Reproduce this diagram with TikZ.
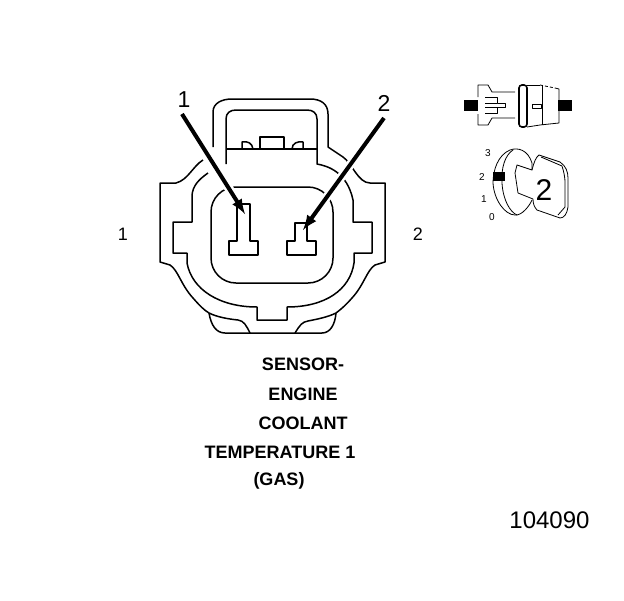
\documentclass[tikz,border=0pt]{standalone}
\usepackage{fontspec}
\setmainfont{Liberation Sans}
\usetikzlibrary{calc, arrows}
\tikzset{>=latex}
\tikzset{outline/.style={line width=1.5pt, line join=round}}
\tikzset{thinline/.style={line width=0.8pt, line join=round}}
\tikzset{pointer/.style={->, line width=4pt}}
\tikzset{halo/.style={white, line width=9pt}}
\tikzset{pinlabel/.style={font=\fontsize{23}{23}\selectfont}}
\tikzset{sidelabel/.style={font=\fontsize{18}{18}\selectfont}}
\tikzset{title/.style={font=\fontsize{18}{18}\selectfont\bfseries}}
\tikzset{gauge/.style={font=\fontsize{10}{10}\selectfont}}
\begin{document}
\begin{tikzpicture}[x=1pt, y=-1pt]
\useasboundingbox (0, 0) rectangle (624, 600);
% connector body
\draw[outline] (213, 147) -- (213, 112) .. controls (213, 103) and (222, 99) .. (232, 99) -- (310, 99) .. controls (321, 99) and (328, 104) .. (328, 114) -- (328, 147) -- (343, 157) .. controls (352, 163) and (358, 183) .. (370, 183) -- (385, 183) -- (385, 262) -- (375, 265) .. controls (367, 270) and (364, 285) .. (352, 298) .. controls (345, 306) and (340, 310) .. (336, 313) .. controls (328, 317) and (318, 319) .. (308, 321) .. controls (302, 322) and (300, 325) .. (295, 333);
\draw[outline] (203, 160) .. controls (193, 166) and (188, 180) .. (176, 183) -- (160, 183) -- (160, 262) -- (170, 265) .. controls (178, 270) and (181, 285) .. (193, 298) .. controls (200, 306) and (204, 310) .. (209, 313) .. controls (217, 317) and (228, 319) .. (238, 320) .. controls (244, 321) and (246, 325) .. (250, 333);
\draw[outline] (209, 313) .. controls (211, 325) and (216, 333) .. (225, 333) -- (322, 333) .. controls (330, 333) and (335, 325) .. (336, 313);
% inner wall
\draw[outline] (226, 164) -- (226, 119) .. controls (226, 113) and (230, 110) .. (236, 110) -- (307, 110) .. controls (313, 110) and (317, 113) .. (317, 119) -- (317, 164) .. controls (328, 166) and (347, 172) .. (353, 200) -- (353, 222) -- (372, 222) -- (372, 253) -- (354, 253) -- (354, 263) .. controls (350, 290) and (325, 307) .. (287, 307) -- (287, 320) -- (257, 320) -- (257, 307) .. controls (220, 307) and (192, 290) .. (187, 263) -- (187, 253) -- (173, 253) -- (173, 222) -- (192, 222) -- (192, 195) .. controls (193, 186) and (198, 180) .. (208, 173);
\draw[line width=2pt] (226, 149) -- (317, 149);
\draw[outline] (242, 149) -- (242, 142) .. controls (248, 141) and (252, 143) .. (253, 149);
\draw[outline] (260, 149) -- (260, 137) -- (284, 137) -- (284, 149);
\draw[outline] (292, 149) .. controls (292, 143) and (298, 141) .. (303, 142) -- (303, 149);
\draw[outline, rounded corners=25pt] (211, 187) rectangle (333, 283);
% arrows
\coordinate (start1) at (182, 114);
\coordinate (pin1) at (245, 214);
\coordinate (start2) at (384, 118);
\coordinate (pin2) at (303, 230);
\draw[halo] (start1) -- (pin1);
\draw[halo] (start2) -- (pin2);
% terminals
\draw[outline] (237, 204) -- (237, 241) -- (229, 241) -- (229, 255) -- (258, 255) -- (258, 241) -- (250, 241) -- (250, 204) -- cycle;
\draw[outline] (295, 223) -- (295, 241) -- (287, 241) -- (287, 255) -- (316, 255) -- (316, 241) -- (307, 241) -- (307, 223) -- cycle;
\draw[pointer] (start1) -- (pin1);
\draw[pointer] (start2) -- (pin2);
% labels
\node[pinlabel] (num1) at (184, 100) {1};
\node[pinlabel] (num2) at (384, 103) {2};
\node[sidelabel] (side1) at (123, 234) {1};
\node[sidelabel] (side2) at (418, 234) {2};
\node[title] (sensor) at (303, 364) {SENSOR-};
\node[title] (engine) at (303, 394) {ENGINE};
\node[title] (coolant) at (303, 423) {COOLANT};
\node[title] (temp) at (280, 452) {TEMPERATURE 1};
\node[title] (gas) at (279, 481) {(GAS)};
\node[font=\fontsize{24}{24}\selectfont] (partno) at (549.5, 520) {104090};
% side view
\fill (464, 100) rectangle (478, 111);
\fill (558, 100) rectangle (572, 111);
\draw[thinline] (478, 97) -- (478, 85) -- (488, 85) -- (492, 92) -- (515, 92);
\draw[thinline] (478, 114) -- (478, 125) -- (488, 125) -- (492, 118) -- (515, 118);
\draw[thinline] (485, 97) -- (497, 97) -- (497, 103) -- (505, 103) -- (505, 107) -- (497, 107) -- (497, 113) -- (485, 113);
\draw[thinline] (485, 103) -- (497, 103);
\draw[thinline] (485, 107) -- (497, 107);
\draw[line width=1.6pt, rounded corners=3pt] (519, 85) rectangle (527, 127);
\draw[thinline] (527, 85) -- (540, 85);
\draw[thinline, densely dashed] (540, 85) -- (555, 88);
\draw[thinline] (555, 88) -- (559, 89) -- (559, 100);
\draw[thinline] (559, 111) -- (559, 123) -- (540, 125) -- (527, 127);
\draw[thinline] (542, 86) -- (542, 125);
\draw[thinline] (532, 104) rectangle (541, 108);
% key view
\fill (493, 172) rectangle (505, 181);
\draw[thinline] (532, 163) .. controls (528, 150) and (518, 147) .. (510, 150) .. controls (498, 155) and (493, 170) .. (493, 183) .. controls (494, 200) and (505, 215) .. (515, 215) .. controls (522, 216) and (530, 205) .. (532, 200);
\draw[thinline] (513, 150) .. controls (505, 155) and (501, 168) .. (502, 183) .. controls (503, 200) and (510, 212) .. (517, 215);
\draw[thinline] (532, 163) -- (532, 170) -- (517, 165) -- (515, 173) -- (518, 193) -- (533, 199);
\draw[thinline] (532, 170) .. controls (534, 162) and (536, 157) .. (539, 155) -- (560, 162) .. controls (566, 166) and (568, 172) .. (568, 178) -- (568, 207) .. controls (567, 214) and (564, 218) .. (560, 218) -- (537, 210) .. controls (534, 207) and (533, 203) .. (533, 199);
\draw[thinline] (541, 157) -- (562, 166) .. controls (564, 172) and (565, 178) .. (565, 182) -- (565, 207) -- (558, 215);
\node[font=\fontsize{30}{30}\selectfont] (keytwo) at (544, 190) {2};
\node[gauge] (gauge3) at (488, 153) {3};
\node[gauge] (gauge2) at (482, 177) {2};
\node[gauge] (gauge1) at (484, 199) {1};
\node[gauge] (gauge0) at (492, 217) {0};
\end{tikzpicture}
\end{document}
